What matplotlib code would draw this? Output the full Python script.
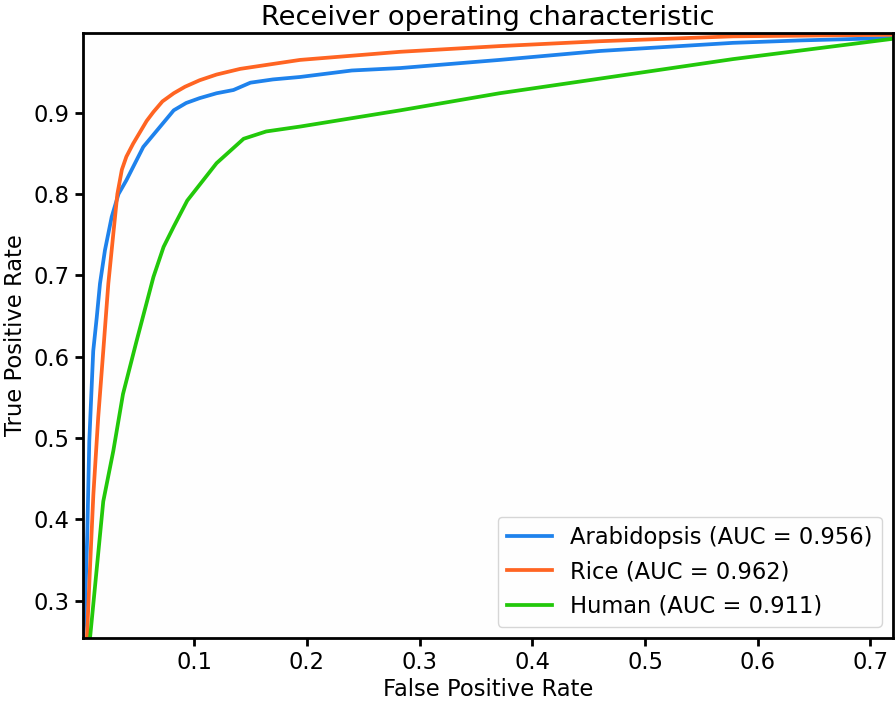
import matplotlib
matplotlib.use("Agg")
import matplotlib.pyplot as plt

# ROC points (fpr, tpr)
ara_fpr = [0.0015, 0.003, 0.0053, 0.0071, 0.0106, 0.0137, 0.0166, 0.021, 0.027, 0.033,
           0.040, 0.055, 0.070, 0.082, 0.093, 0.105, 0.120, 0.135, 0.150, 0.170,
           0.194, 0.240, 0.283, 0.371, 0.460, 0.578, 0.638, 0.72]
ara_tpr = [0.254, 0.277, 0.381, 0.496, 0.607, 0.648, 0.690, 0.731, 0.772, 0.800,
           0.817, 0.858, 0.883, 0.903, 0.912, 0.918, 0.924, 0.928, 0.937, 0.941,
           0.944, 0.952, 0.955, 0.965, 0.976, 0.986, 0.989, 0.992]

rice_fpr = [0.004, 0.005, 0.0077, 0.0107, 0.015, 0.0195, 0.024, 0.0284, 0.032, 0.036,
            0.040, 0.046, 0.052, 0.058, 0.064, 0.072, 0.082, 0.092, 0.105, 0.120,
            0.141, 0.165, 0.194, 0.283, 0.371, 0.460, 0.578, 0.72]
rice_tpr = [0.240, 0.253, 0.339, 0.430, 0.525, 0.607, 0.690, 0.751, 0.800, 0.830,
            0.846, 0.862, 0.876, 0.890, 0.901, 0.914, 0.924, 0.932, 0.940, 0.947,
            0.954, 0.959, 0.965, 0.975, 0.982, 0.988, 0.994, 0.996]

hum_fpr = [0.0077, 0.0137, 0.0195, 0.0284, 0.037, 0.049, 0.064, 0.073, 0.082, 0.094,
           0.120, 0.144, 0.164, 0.194, 0.283, 0.371, 0.460, 0.578, 0.72]
hum_tpr = [0.253, 0.339, 0.422, 0.484, 0.554, 0.619, 0.698, 0.735, 0.760, 0.792,
           0.838, 0.868, 0.877, 0.883, 0.903, 0.924, 0.942, 0.966, 0.991]

names = ["Arabidopsis", "Rice", "Human"]
aucs = [0.956, 0.962, 0.911]
colors = ["#1e82ec", "#ff6422", "#22c80a"]

fig = plt.figure(figsize=(8.96, 7.04), dpi=100)
ax = fig.add_axes([0.0926, 0.0938, 0.9041, 0.8592])
ax.set_facecolor("#fefefe")

curves = [(ara_fpr, ara_tpr), (rice_fpr, rice_tpr), (hum_fpr, hum_tpr)]
for (fx, ty), n, a, c in zip(curves, names, aucs, colors):
    ax.plot(fx, ty, color=c, lw=2.7, label="%s (AUC = %.3f)" % (n, a))

ax.set_xlim(0.0015, 0.72)
ax.set_ylim(0.254, 0.998)
ax.set_xticks([0.1, 0.2, 0.3, 0.4, 0.5, 0.6, 0.7])
ax.set_yticks([0.3, 0.4, 0.5, 0.6, 0.7, 0.8, 0.9])
ax.tick_params(labelsize=16.3, length=6, width=2)
for s in ax.spines.values():
    s.set_linewidth(2)

ax.set_title("Receiver operating characteristic", fontsize=19.6)
ax.set_xlabel("False Positive Rate", fontsize=16.3, labelpad=3)
ax.set_ylabel("True Positive Rate", fontsize=16.3, labelpad=5)
ax.legend(loc="lower right", fontsize=16.3, handlelength=2.0)

fig.savefig("out.png", dpi=100)
